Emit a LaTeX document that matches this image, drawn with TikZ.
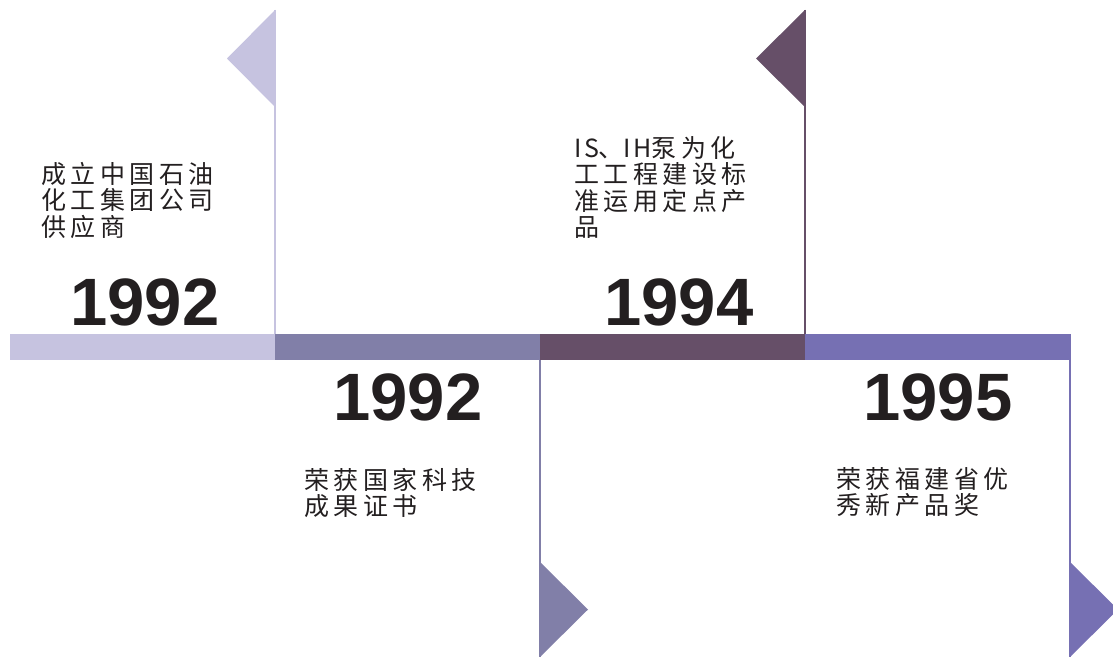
\documentclass[tikz,border=0pt]{standalone}
\usepackage{fontspec}
\setmainfont{Liberation Sans}
\newfontfamily\cjkfont[LetterSpace=18]{Noto Sans CJK SC}
\usepackage{tikz}
\usetikzlibrary{positioning}
\usepackage{xcolor}
\definecolor{tllavender}{RGB}{198,195,224}
\definecolor{tlslate}{RGB}{129,127,168}
\definecolor{tlplum}{RGB}{102,79,104}
\definecolor{tlviolet}{RGB}{118,112,179}
\definecolor{tltext}{RGB}{35,31,32}
\newcommand{\tllatin}[1]{{\addfontfeature{LetterSpace=10}#1}}
\tikzstyle{yearlabel} = [font=\fontsize{67}{67}\selectfont\bfseries, text=tltext, inner sep=0pt, anchor=base]
\tikzstyle{eventtext} = [font=\cjkfont\fontsize{25}{26.5}\selectfont, text=tltext, align=left, inner sep=0pt, anchor=north west]
\tikzstyle{pole} = [line width=2pt]

\begin{document}
\begin{tikzpicture}[x=1pt,y=-1pt]
\useasboundingbox (0,0) rectangle (1113,658);

% Timeline bar
\fill[tllavender] (10,334) rectangle (275,360);
\fill[tlslate] (275,334) rectangle (540,360);
\fill[tlplum] (540,334) rectangle (805,360);
\fill[tlviolet] (805,334) rectangle (1071,360);

% Upper flags
\draw[pole, tllavender] (275,10) -- (275,334);
\fill[tllavender] (275,10) -- (227,58.5) -- (275,107) -- cycle;
\draw[pole, tlplum] (805,10) -- (805,334);
\fill[tlplum] (805,10) -- (756,58.5) -- (805,107) -- cycle;

% Lower flags
\draw[pole, tlslate] (540,360) -- (540,657);
\fill[tlslate] (540,562) -- (588,609.5) -- (540,657) -- cycle;
\draw[pole, tlviolet] (1070,360) -- (1070,657);
\fill[tlviolet] (1070,562) -- (1118,609.5) -- (1070,657) -- cycle;

% Years
\node[yearlabel] (y1) at (145,325) {1992};
\node[yearlabel] (y2) at (408,420) {1992};
\node[yearlabel] (y3) at (679,325) {1994};
\node[yearlabel] (y4) at (938,420) {1995};

% Events
\node[eventtext] (e1) at (41,162) {成立中国石油\\化工集团公司\\供应商};
\node[eventtext] (e2) at (304,468) {荣获国家科技\\成果证书};
\node[eventtext] (e3) at (574,136) {\tllatin{IS}、\tllatin{IH}泵为化\\工工程建设标\\准运用定点产\\品};
\node[eventtext] (e4) at (836,467) {荣获福建省优\\秀新产品奖};
\end{tikzpicture}
\end{document}
